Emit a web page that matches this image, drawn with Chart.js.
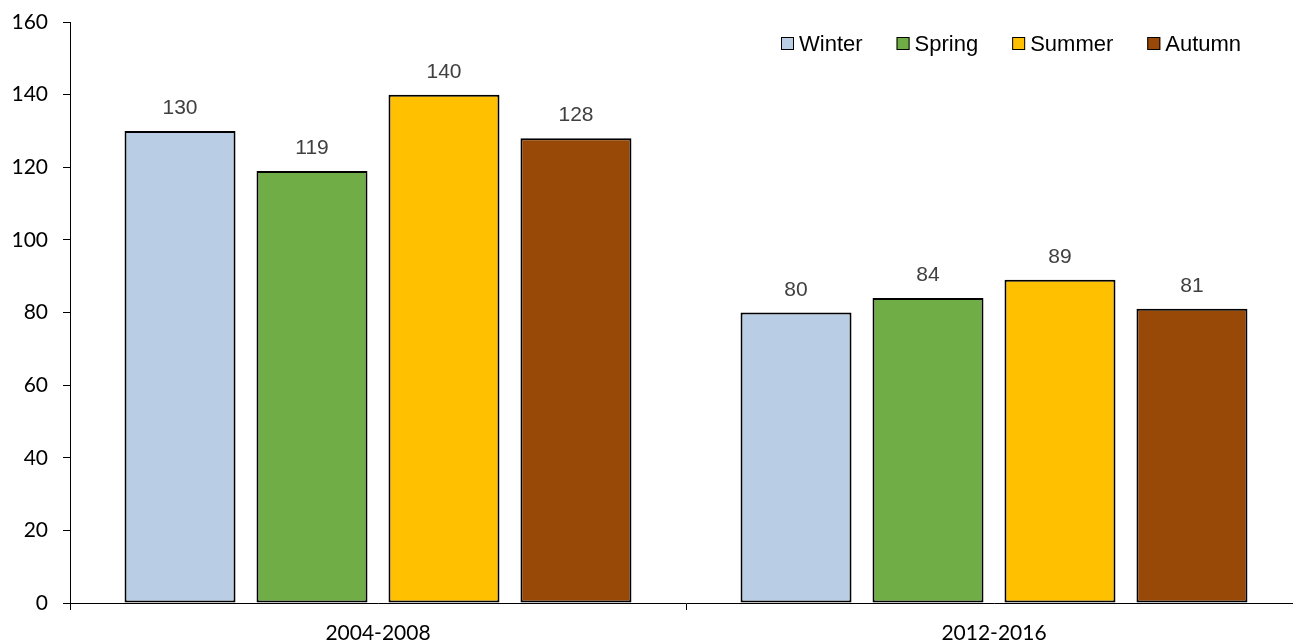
<!DOCTYPE html>
<html>
<head>
<meta charset="utf-8">
<title>Seasonal comparison</title>
<script src="https://cdn.jsdelivr.net/npm/chart.js@4/dist/chart.umd.min.js"></script>
<style>
  html, body { margin: 0; padding: 0; background: #fff; overflow: hidden; }
  #wrap { width: 1302px; height: 644px; }
</style>
</head>
<body>
<div id="wrap"><canvas id="chart" width="1302" height="644"></canvas></div>
<script>
// Values per period
const periods = ['2004-2008', '2012-2016'];
const seasons = ['Winter', 'Spring', 'Summer', 'Autumn'];
const winter = [130, 80];
const spring = [119, 84];
const summer = [140, 89];
const autumn = [128, 81];
const yTickValues = [0, 20, 40, 60, 80, 100, 120, 140, 160];

const seasonColors = ['#B9CDE5', '#70AD47', '#FFC000', '#984807'];
const seasonValues = [winter, spring, summer, autumn];

const AXIS_FONT = 'Lato';
const LABEL_FONT = '"Liberation Sans", Arial, sans-serif';

// Value labels above each bar
const valueLabels = {
  id: 'valueLabels',
  afterDatasetsDraw(chart) {
    const ctx = chart.ctx;
    ctx.save();
    ctx.font = '21px ' + LABEL_FONT;
    ctx.fillStyle = '#404040';
    ctx.textAlign = 'center';
    ctx.textBaseline = 'alphabetic';
    chart.data.datasets.forEach((ds, i) => {
      chart.getDatasetMeta(i).data.forEach((bar, j) => {
        ctx.fillText(String(ds.data[j]), bar.x, bar.y - 17);
      });
    });
    ctx.restore();
  }
};

// Legend drawn inside the plot, upper right
const insideLegend = {
  id: 'insideLegend',
  afterDraw(chart) {
    const ctx = chart.ctx;
    ctx.save();
    ctx.font = '22px ' + LABEL_FONT;
    ctx.textBaseline = 'alphabetic';
    ctx.textAlign = 'left';
    const box = 13, gap = 5, itemGap = 34;
    let x = 781;
    const boxTop = 37, baseline = 51;
    chart.data.datasets.forEach((ds) => {
      ctx.fillStyle = ds.backgroundColor;
      ctx.fillRect(x, boxTop, box, box);
      ctx.strokeStyle = '#000';
      ctx.lineWidth = 1;
      ctx.strokeRect(x + 0.5, boxTop + 0.5, box - 1, box - 1);
      ctx.fillStyle = '#000';
      ctx.fillText(ds.label, x + box + gap, baseline);
      x += box + gap + ctx.measureText(ds.label).width + itemGap;
    });
    ctx.restore();
  }
};

new Chart(document.getElementById('chart'), {
  type: 'bar',
  data: {
    labels: periods,
    datasets: seasons.map((name, i) => ({
      label: name,
      data: seasonValues[i],
      backgroundColor: seasonColors[i],
      borderColor: '#000',
      borderWidth: 2,
      borderSkipped: false,
      categoryPercentage: 0.857,
      barPercentage: 0.841
    }))
  },
  options: {
    responsive: false,
    devicePixelRatio: 1,
    animation: false,
    layout: { padding: { top: 22, right: 0, bottom: 0, left: 0 } },
    plugins: {
      legend: { display: false },
      tooltip: { enabled: false }
    },
    scales: {
      x: {
        offset: true,
        grid: {
          offset: true,
          drawOnChartArea: false,
          drawTicks: true,
          tickLength: 7,
          color: '#000',
          lineWidth: 1
        },
        border: { display: true, color: '#000', width: 1 },
        ticks: {
          color: '#000',
          font: { family: AXIS_FONT, size: 21 },
          padding: 11,
          maxRotation: 0
        },
        afterFit(scale) { scale.height = 41; }
      },
      y: {
        min: 0,
        max: 160,
        afterBuildTicks(scale) {
          scale.ticks = yTickValues.map(v => ({ value: v }));
        },
        grid: {
          drawOnChartArea: false,
          drawTicks: true,
          tickLength: 7,
          color: '#000',
          lineWidth: 1
        },
        border: { display: true, color: '#000', width: 1 },
        ticks: {
          color: '#000',
          font: { family: AXIS_FONT, size: 21 },
          padding: 15
        },
        afterFit(scale) {
          scale.width = 70;
          scale.paddingTop = 0;
          scale.paddingBottom = 0;
        }
      }
    }
  },
  plugins: [valueLabels, insideLegend]
});
</script>
</body>
</html>
